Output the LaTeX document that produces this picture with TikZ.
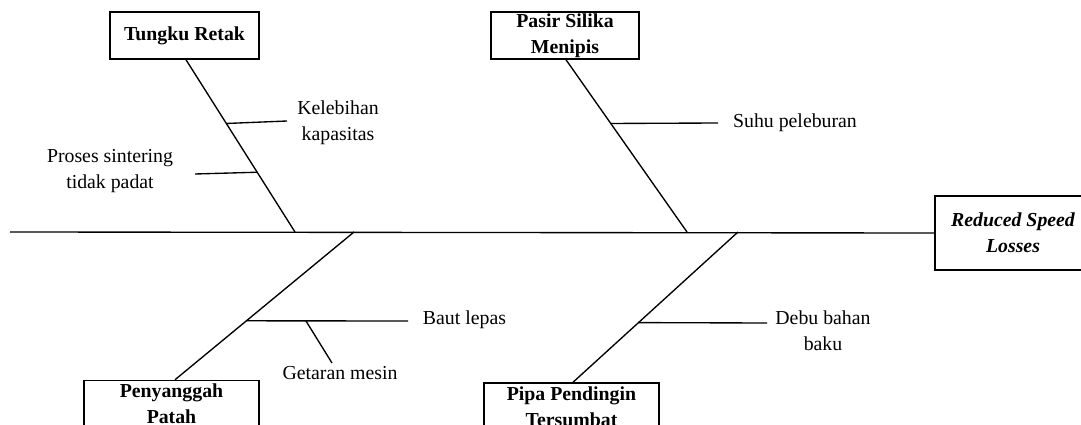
\documentclass[tikz,border=0pt]{standalone}
\usepackage{fontspec}
\setmainfont{Liberation Serif}
\usetikzlibrary{calc}
\begin{document}
\begin{tikzpicture}[x=1pt,y=-1pt,
  every node/.style={font=\fontsize{19.8}{26}\selectfont, inner sep=0pt},
  catbox/.style={draw, line width=1.5pt, minimum height=47pt, align=center, font=\fontsize{19.8}{26}\selectfont\bfseries},
  lbl/.style={align=center},
  bone/.style={line width=1.35pt}]
\useasboundingbox (0,0) rectangle (1081,425);
% boxes
\node[catbox, minimum width=149pt] (tr) at (184.5,35.5) {Tungku Retak};
\node[catbox, minimum width=148pt] (ps) at (565,35.5) {Pasir Silika\\Menipis};
\node[catbox, minimum width=175pt] (pp) at (171.5,404) {Penyanggah\\Patah};
\node[catbox, minimum width=175pt] (pi) at (571.5,406.5) {Pipa Pendingin\\Tersumbat};
\node[catbox, minimum width=156pt, minimum height=74pt, font=\fontsize{19.8}{26}\selectfont\bfseries\itshape] (rsl) at (1013,233) {Reduced Speed\\Losses};
% spine
\coordinate (spL) at (10,232);
\coordinate (j1) at (295,232);
\coordinate (j2) at (687,232);
\coordinate (j3) at (354,232);
\coordinate (j4) at (738,232);
\draw[bone] (spL) -- (rsl.west);
% bones
\draw[bone] ([xshift=1.5pt]tr.south) -- (j1);
\draw[bone] ([xshift=1pt]ps.south) -- (j2);
\draw[bone] ([xshift=3.5pt]pp.north) -- (j3);
\draw[bone] ([xshift=1.5pt]pi.north) -- (j4);
% branch points on bones
\coordinate (b1) at ($([xshift=1.5pt]tr.south)!0.37!(j1)$);
\coordinate (b2) at ($([xshift=1.5pt]tr.south)!0.653!(j1)$);
\coordinate (b3) at ($([xshift=1pt]ps.south)!0.37!(j2)$);
\coordinate (b4) at ($([xshift=3.5pt]pp.north)!0.399!(j3)$);
\coordinate (b5) at ($([xshift=1.5pt]pi.north)!0.397!(j4)$);
% branch ends
\coordinate (e1) at (287,121);
\coordinate (e2) at (195,174);
\coordinate (e3) at (718,123);
\coordinate (e4) at (408,321);
\coordinate (e5) at (767,323);
\coordinate (g0) at (306,321);
\coordinate (g1) at (332,363);
\draw[bone] (b1) -- (e1);
\draw[bone] (b2) -- (e2);
\draw[bone] (b3) -- (e3);
\draw[bone] (b4) -- (e4);
\draw[bone] (b5) -- (e5);
\draw[bone] (g0) -- (g1);
% labels
\node[lbl] (l1) at (338,122.5) {Kelebihan\\kapasitas};
\node[lbl] (l2) at (110,171) {Proses sintering\\tidak padat};
\node[lbl] (l3) at (795,123) {Suhu peleburan};
\node[lbl] (l4) at (464.5,320) {Baut lepas};
\node[lbl] (l5) at (340,373) {Getaran mesin};
\node[lbl] (l6) at (823,330.5) {Debu bahan\\baku};
\end{tikzpicture}
\end{document}
